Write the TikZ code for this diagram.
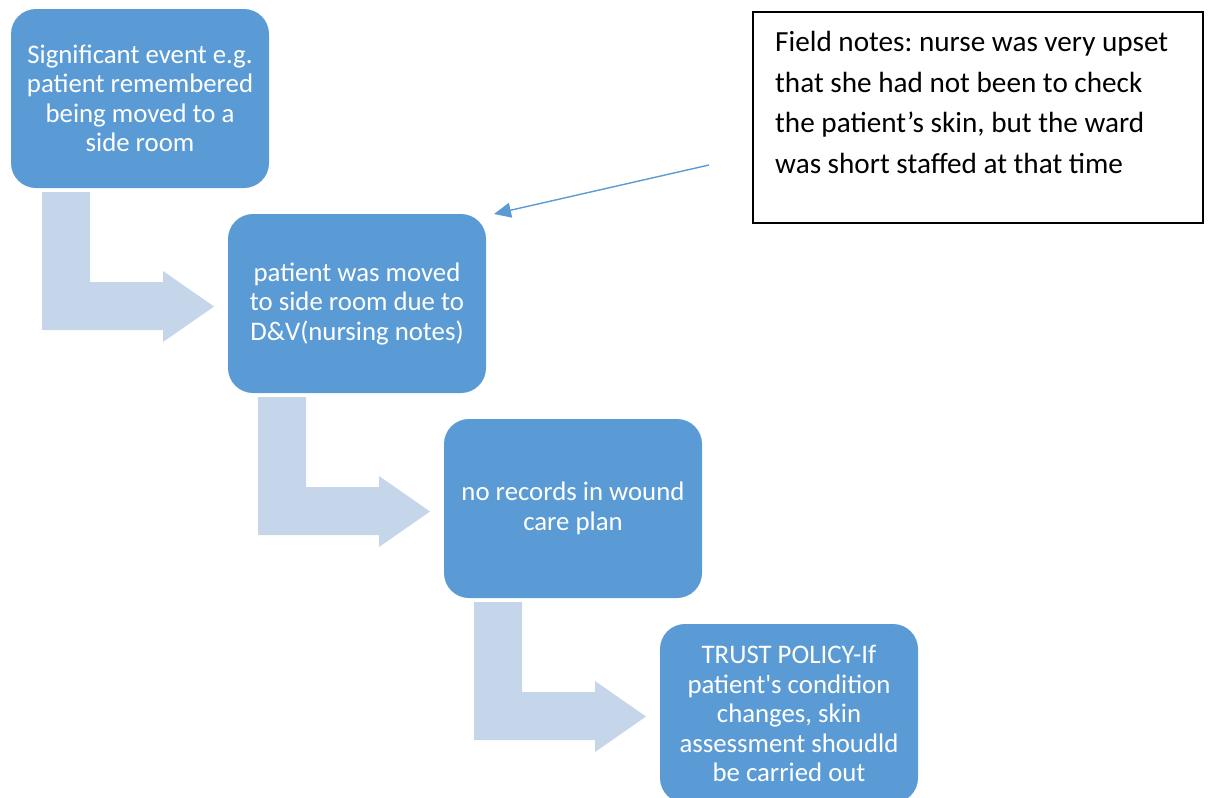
\documentclass[tikz,border=0pt]{standalone}
\usepackage{fontspec}
\setmainfont{Carlito}[Ligatures=TeXOff]
\frenchspacing
\usetikzlibrary{arrows.meta}
\definecolor{boxblue}{RGB}{91,155,213}
\definecolor{arrowlight}{RGB}{197,213,234}
\tikzset{
  stagebox/.style={fill=boxblue, draw=none, rounded corners=25pt, minimum width=258pt, minimum height=179pt, text=white, align=center, inner sep=0pt, font=\fontsize{26.8}{29.5}\selectfont},
  bentarrow/.style={fill=arrowlight, draw=none},
  notebox/.style={draw=black, line width=1.2pt, fill=white, minimum width=450pt, minimum height=211pt, inner sep=0pt},
  notetext/.style={align=left, anchor=north west, inner sep=0pt, font=\fontsize{29.2}{40.6}\selectfont},
  pointer/.style={draw=boxblue, line width=1.4pt, -{Triangle[length=17pt,width=15pt]}}
}
\begin{document}
\begin{tikzpicture}[x=1pt,y=-1pt]
\useasboundingbox (0,0) rectangle (1211,798);
\clip (0,0) rectangle (1211,798);
\foreach \i in {0,1,2} {
  \fill[bentarrow, shift={(216*\i,205*\i)}] (42,192) -- (90,192) -- (90,282) -- (163,282) -- (163,271) -- (214,306.5) -- (163,342) -- (163,330) -- (42,330) -- cycle;
}
\node[stagebox] (b1) at (140,98.5) {Significant event e.g.\\patient remembered\\being moved to a\\side room};
\node[stagebox] (b2) at (357,303.5) {patient was moved\\to side room due to\\D\&V(nursing notes)};
\node[stagebox] (b3) at (573,508.5) {no records in wound\\care plan};
\node[stagebox] (b4) at (789,713.5) {TRUST POLICY-If\\patient's condition\\changes, skin\\assessment shoudld\\be carried out};
\node[notebox] (notes) at (978,117.5) {};
\node[notetext] (notestext) at (775,31) {Field notes: nurse was very upset\\that she had not been to check\\the patient’s skin, but the ward\\was short staffed at that time};
\coordinate (pstart) at (709,165);
\coordinate (ptip) at (494,214);
\draw[pointer] (pstart) -- (ptip);
\end{tikzpicture}
\end{document}
